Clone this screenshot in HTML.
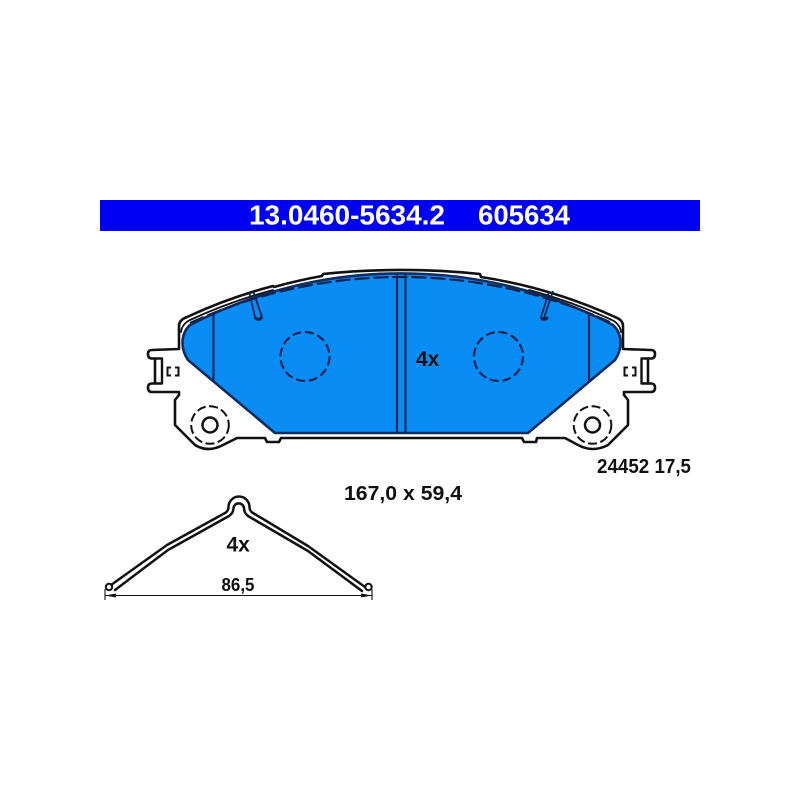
<!DOCTYPE html>
<html><head><meta charset="utf-8"><style>html,body{margin:0;padding:0;background:#fff}svg{display:block;filter:blur(.35px)}text{font-family:"Liberation Sans",sans-serif;font-weight:bold;fill:#111}</style></head><body>
<svg width="800" height="800" viewBox="0 0 800 800" xmlns="http://www.w3.org/2000/svg">
<rect width="800" height="800" fill="#fff"/>
<rect x="100" y="200" width="600" height="31" fill="#0000f5"/>
<text x="249" y="224.5" font-size="28" textLength="196" lengthAdjust="spacingAndGlyphs" style="fill:#fff">13.0460-5634.2</text>
<text x="478" y="224.5" font-size="28" textLength="92" lengthAdjust="spacingAndGlyphs" style="fill:#fff">605634</text>
<g fill="none" stroke="#111" stroke-linejoin="round" stroke-linecap="round">
<!-- backing plate outline -->
<path stroke-width="2.6" d="M179 349 V326 Q179 320 187 317 A510.700 510.700 0 0 1 273 286 L274 287 A510.700 510.700 0 0 1 322 276 L323 274 A770 770 0 0 1 480 274 L481 277 A510.700 510.700 0 0 1 615 317 Q623 320 623 326 V349 L651 350 Q655 350 655 354 Q655 358.500 651 358.500 H648 V383.500 H651 Q655 383.500 655 387.500 Q655 392 651 392 H624 L624 395 L628 400 V425 L608 445 Q593 453 578 445 L565 438 H537 L536 442 H524 L522 438 H281 L279 442 H267 L265 438 H237 L223 445 Q208 453 195 445 L175 425 V400 L179 395 V392 H152 Q148 392 148 387.500 Q148 383.500 152 383.500 H155 V358.500 H152 Q148 358.500 148 354 Q148 350 152 350 Z"/>
<path stroke-width="2.400" d="M155 358.500H162V383.500H155M648 358.500H641.500V383.500H648"/>
<path stroke-width="1.800" d="M181 332Q182 324 190 320A510 510 0 0 1 273 290M621 332Q620 324 612 320A510 510 0 0 0 529 290"/>
</g>
<!-- friction pad -->
<path fill="#0a8cf5" stroke="#0f2c5c" stroke-width="2.600" stroke-linejoin="round" d="M275 433 L188 360 Q182.500 352 182.500 343 Q182.500 332 190 325 A459 459 0 0 1 613 325 Q620.500 332 620.500 343 Q620.500 352 615 360 L528 433 Z"/>
<g fill="none" stroke="#0b2555" stroke-linecap="butt">
<path stroke-width="2.200" d="M397 274V433M405.500 274V433M213.500 313V382M589 313V382"/>
<path stroke-width="2.200" stroke-dasharray="15 4" d="M190 323 A507 507 0 0 1 612 323"/>
<circle cx="305" cy="356.500" r="24.500" stroke-width="2.200" stroke-dasharray="9 3.800"/>
<circle cx="498.500" cy="356.500" r="24.500" stroke-width="2.200" stroke-dasharray="9 3.800"/>
<path stroke-width="1.800" d="M249.500 293L255 317M253.500 292L262 317M553 291L544 318M549 292L541 317"/>
<path stroke-width="3" stroke-linecap="round" d="M255.500 318Q258.500 321 261.500 317.500M541.500 318Q544 321 547 318"/>
</g>
<g fill="none" stroke="#111">
<circle cx="210" cy="425" r="18.800" stroke-width="2" stroke-dasharray="9 3.500"/>
<circle cx="592.500" cy="425" r="18.800" stroke-width="2" stroke-dasharray="9 3.500"/>
<circle cx="210" cy="425" r="7.500" stroke-width="2.500"/>
<circle cx="592.500" cy="425" r="7.500" stroke-width="2.500"/>
<path stroke-width="2" d="M171 367.500H167.500V375.500H171M175 367.500H178.500V375.500H175M628 367.500H624.500V375.500H628M632 367.500H635.500V375.500H632"/>
<!-- clip -->
<path stroke-width="2.500" stroke-linejoin="round" stroke-linecap="round" d="M111 585 L167 545 L225 513 Q228.500 511 228.500 507 A10.500 10.500 0 0 1 249.500 507 Q249.500 511 253 513 L308 546 L365 587"/>
<path stroke-width="2.500" stroke-linejoin="round" stroke-linecap="round" d="M115 590 L168 550 L229 516 Q233.500 513 233.500 508 A5.300 5.300 0 0 1 244 508 Q244 513 248 516 L308 551 L362 591"/>
<circle cx="109" cy="587" r="3.200" stroke-width="2" fill="#fff"/>
<circle cx="368.500" cy="587" r="3.200" stroke-width="2" fill="#fff"/>
<path stroke-width="1.100" d="M105 595.500H372M105 589V600M372 589V600"/>
</g>
<path fill="#111" d="M105 595.500L116 593.500V597.500ZM372 595.500L361 593.500V597.500Z"/>
<text x="416" y="366" font-size="21">4x</text>
<text x="226.500" y="551.500" font-size="21">4x</text>
<text x="221.500" y="591" font-size="18" textLength="33" lengthAdjust="spacingAndGlyphs">86,5</text>
<text x="344" y="500" font-size="20.500" textLength="118" lengthAdjust="spacingAndGlyphs">167,0 x 59,4</text>
<text x="597" y="473" font-size="20" textLength="94" lengthAdjust="spacingAndGlyphs">24452 17,5</text>
</svg>
</body></html>
